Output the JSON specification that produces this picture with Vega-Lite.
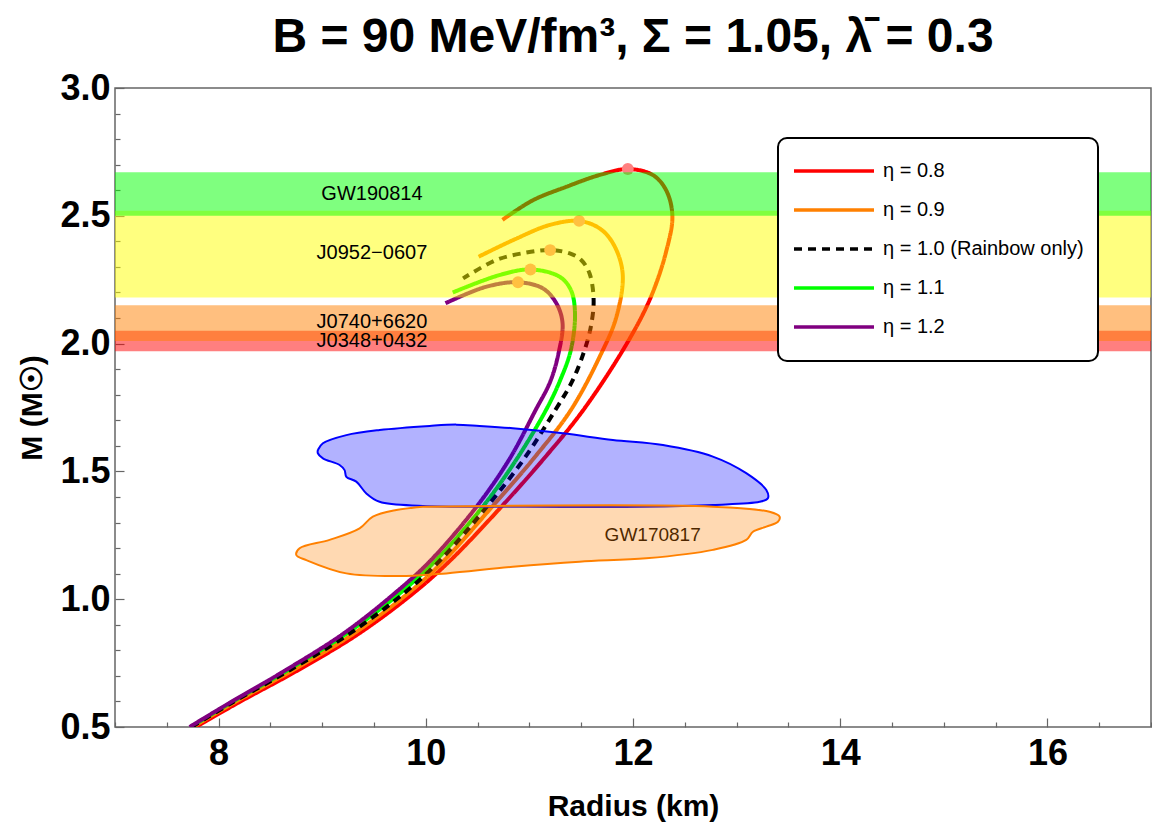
{
  "$schema": "https://vega.github.io/schema/vega-lite/v6.json",
  "width": 1036,
  "height": 639,
  "autosize": {"type": "none"},
  "padding": {"left": 115, "top": 88, "right": 1, "bottom": 102},
  "title": {
    "text": "B = 90 MeV/fm³, Σ = 1.05, λ̄ = 0.3",
    "fontSize": 48,
    "fontWeight": "bold",
    "font": "Liberation Sans",
    "color": "black",
    "anchor": "middle",
    "frame": "group",
    "offset": 8
  },
  "config": {
    "font": "Liberation Sans",
    "view": {"stroke": "#666666", "strokeWidth": 1.5},
    "axis": {
      "grid": false,
      "domain": false,
      "tickColor": "#666666",
      "tickWidth": 1.2,
      "labelColor": "black",
      "labelFontWeight": "bold",
      "labelFontSize": 36,
      "labelOverlap": false,
      "labelFlush": false,
      "labelBound": false,
      "titleColor": "black",
      "titleFontWeight": "bold",
      "titleFontSize": 30
    },
    "legend": {"strokeWidth": 2}
  },
  "datasets": {
    "curves": [
      {"eta": "0.8", "i": 0, "R": 7.78, "M": 0.5},
      {"eta": "0.8", "i": 1, "R": 8.18, "M": 0.593},
      {"eta": "0.8", "i": 2, "R": 8.77, "M": 0.723},
      {"eta": "0.8", "i": 3, "R": 9.36, "M": 0.867},
      {"eta": "0.8", "i": 4, "R": 9.9, "M": 1.03},
      {"eta": "0.8", "i": 5, "R": 10.24, "M": 1.153},
      {"eta": "0.8", "i": 6, "R": 10.73, "M": 1.362},
      {"eta": "0.8", "i": 7, "R": 11.14, "M": 1.55},
      {"eta": "0.8", "i": 8, "R": 11.52, "M": 1.74},
      {"eta": "0.8", "i": 9, "R": 11.94, "M": 2.0},
      {"eta": "0.8", "i": 10, "R": 12.17, "M": 2.18},
      {"eta": "0.8", "i": 11, "R": 12.32, "M": 2.36},
      {"eta": "0.8", "i": 12, "R": 12.38, "M": 2.5},
      {"eta": "0.8", "i": 13, "R": 12.32, "M": 2.6},
      {"eta": "0.8", "i": 14, "R": 12.19, "M": 2.66},
      {"eta": "0.8", "i": 15, "R": 11.95, "M": 2.683},
      {"eta": "0.8", "i": 16, "R": 11.68, "M": 2.66},
      {"eta": "0.8", "i": 17, "R": 11.36, "M": 2.614},
      {"eta": "0.8", "i": 18, "R": 11.03, "M": 2.56},
      {"eta": "0.8", "i": 19, "R": 10.74, "M": 2.484},
      {"eta": "0.9", "i": 0, "R": 7.75, "M": 0.5},
      {"eta": "0.9", "i": 1, "R": 8.14, "M": 0.593},
      {"eta": "0.9", "i": 2, "R": 8.72, "M": 0.723},
      {"eta": "0.9", "i": 3, "R": 9.31, "M": 0.867},
      {"eta": "0.9", "i": 4, "R": 9.85, "M": 1.03},
      {"eta": "0.9", "i": 5, "R": 10.18, "M": 1.153},
      {"eta": "0.9", "i": 6, "R": 10.64, "M": 1.362},
      {"eta": "0.9", "i": 7, "R": 11.04, "M": 1.55},
      {"eta": "0.9", "i": 8, "R": 11.4, "M": 1.74},
      {"eta": "0.9", "i": 9, "R": 11.68, "M": 1.95},
      {"eta": "0.9", "i": 10, "R": 11.84, "M": 2.105},
      {"eta": "0.9", "i": 11, "R": 11.9, "M": 2.275},
      {"eta": "0.9", "i": 12, "R": 11.81, "M": 2.39},
      {"eta": "0.9", "i": 13, "R": 11.68, "M": 2.45},
      {"eta": "0.9", "i": 14, "R": 11.48, "M": 2.48},
      {"eta": "0.9", "i": 15, "R": 11.195, "M": 2.464},
      {"eta": "0.9", "i": 16, "R": 10.87, "M": 2.41},
      {"eta": "0.9", "i": 17, "R": 10.51, "M": 2.34},
      {"eta": "1.1", "i": 0, "R": 7.73, "M": 0.5},
      {"eta": "1.1", "i": 1, "R": 8.11, "M": 0.593},
      {"eta": "1.1", "i": 2, "R": 8.67, "M": 0.723},
      {"eta": "1.1", "i": 3, "R": 9.24, "M": 0.867},
      {"eta": "1.1", "i": 4, "R": 9.77, "M": 1.03},
      {"eta": "1.1", "i": 5, "R": 10.1, "M": 1.153},
      {"eta": "1.1", "i": 6, "R": 10.55, "M": 1.362},
      {"eta": "1.1", "i": 7, "R": 10.88, "M": 1.55},
      {"eta": "1.1", "i": 8, "R": 11.16, "M": 1.74},
      {"eta": "1.1", "i": 9, "R": 11.29, "M": 1.85},
      {"eta": "1.1", "i": 10, "R": 11.4, "M": 1.975},
      {"eta": "1.1", "i": 11, "R": 11.44, "M": 2.12},
      {"eta": "1.1", "i": 12, "R": 11.4, "M": 2.21},
      {"eta": "1.1", "i": 13, "R": 11.29, "M": 2.262},
      {"eta": "1.1", "i": 14, "R": 11.01, "M": 2.29},
      {"eta": "1.1", "i": 15, "R": 10.71, "M": 2.268},
      {"eta": "1.1", "i": 16, "R": 10.26, "M": 2.2},
      {"eta": "1.0", "i": 0, "R": 7.74, "M": 0.5},
      {"eta": "1.0", "i": 1, "R": 8.12, "M": 0.593},
      {"eta": "1.0", "i": 2, "R": 8.69, "M": 0.723},
      {"eta": "1.0", "i": 3, "R": 9.27, "M": 0.867},
      {"eta": "1.0", "i": 4, "R": 9.81, "M": 1.03},
      {"eta": "1.0", "i": 5, "R": 10.14, "M": 1.153},
      {"eta": "1.0", "i": 6, "R": 10.59, "M": 1.362},
      {"eta": "1.0", "i": 7, "R": 10.95, "M": 1.55},
      {"eta": "1.0", "i": 8, "R": 11.25, "M": 1.74},
      {"eta": "1.0", "i": 9, "R": 11.41, "M": 1.85},
      {"eta": "1.0", "i": 10, "R": 11.52, "M": 1.96},
      {"eta": "1.0", "i": 11, "R": 11.59, "M": 2.06},
      {"eta": "1.0", "i": 12, "R": 11.62, "M": 2.17},
      {"eta": "1.0", "i": 13, "R": 11.58, "M": 2.275},
      {"eta": "1.0", "i": 14, "R": 11.5, "M": 2.327},
      {"eta": "1.0", "i": 15, "R": 11.39, "M": 2.353},
      {"eta": "1.0", "i": 16, "R": 11.2, "M": 2.366},
      {"eta": "1.0", "i": 17, "R": 10.97, "M": 2.356},
      {"eta": "1.0", "i": 18, "R": 10.68, "M": 2.327},
      {"eta": "1.0", "i": 19, "R": 10.36, "M": 2.255},
      {"eta": "1.2", "i": 0, "R": 7.72, "M": 0.5},
      {"eta": "1.2", "i": 1, "R": 8.1, "M": 0.593},
      {"eta": "1.2", "i": 2, "R": 8.65, "M": 0.723},
      {"eta": "1.2", "i": 3, "R": 9.21, "M": 0.867},
      {"eta": "1.2", "i": 4, "R": 9.72, "M": 1.03},
      {"eta": "1.2", "i": 5, "R": 10.05, "M": 1.153},
      {"eta": "1.2", "i": 6, "R": 10.49, "M": 1.362},
      {"eta": "1.2", "i": 7, "R": 10.81, "M": 1.55},
      {"eta": "1.2", "i": 8, "R": 11.06, "M": 1.74},
      {"eta": "1.2", "i": 9, "R": 11.2, "M": 1.85},
      {"eta": "1.2", "i": 10, "R": 11.28, "M": 1.96},
      {"eta": "1.2", "i": 11, "R": 11.32, "M": 2.08},
      {"eta": "1.2", "i": 12, "R": 11.26, "M": 2.158},
      {"eta": "1.2", "i": 13, "R": 11.13, "M": 2.216},
      {"eta": "1.2", "i": 14, "R": 10.89, "M": 2.24},
      {"eta": "1.2", "i": 15, "R": 10.58, "M": 2.222},
      {"eta": "1.2", "i": 16, "R": 10.19, "M": 2.158}
    ],
    "peaks": [
      {"eta": "0.8", "R": 11.95, "M": 2.683},
      {"eta": "0.9", "R": 11.48, "M": 2.48},
      {"eta": "1.0", "R": 11.2, "M": 2.366},
      {"eta": "1.1", "R": 11.01, "M": 2.29},
      {"eta": "1.2", "R": 10.89, "M": 2.24}
    ],
    "bands": [
      {"name": "J0348+0432", "lo": 1.97, "hi": 2.05, "R": 9.48, "M": 2.01},
      {"name": "J0740+6620", "lo": 2.01, "hi": 2.15, "R": 9.48, "M": 2.083},
      {"name": "J0952−0607", "lo": 2.18, "hi": 2.52, "R": 9.48, "M": 2.356},
      {"name": "GW190814", "lo": 2.5, "hi": 2.67, "R": 9.48, "M": 2.585}
    ],
    "gwBlue": [
      {"i": 0, "R": 8.958, "M": 1.584},
      {"i": 1, "R": 9.007, "M": 1.61},
      {"i": 2, "R": 9.233, "M": 1.642},
      {"i": 3, "R": 9.554, "M": 1.662},
      {"i": 4, "R": 10.037, "M": 1.678},
      {"i": 5, "R": 10.294, "M": 1.683},
      {"i": 6, "R": 10.519, "M": 1.678},
      {"i": 7, "R": 10.84, "M": 1.669},
      {"i": 8, "R": 11.323, "M": 1.649},
      {"i": 9, "R": 11.806, "M": 1.623},
      {"i": 10, "R": 12.289, "M": 1.603},
      {"i": 11, "R": 12.771, "M": 1.558},
      {"i": 12, "R": 13.093, "M": 1.493},
      {"i": 13, "R": 13.287, "M": 1.427},
      {"i": 14, "R": 13.302, "M": 1.395},
      {"i": 15, "R": 13.222, "M": 1.381},
      {"i": 16, "R": 12.771, "M": 1.369},
      {"i": 17, "R": 12.128, "M": 1.362},
      {"i": 18, "R": 10.84, "M": 1.362},
      {"i": 19, "R": 9.972, "M": 1.365},
      {"i": 20, "R": 9.554, "M": 1.381},
      {"i": 21, "R": 9.426, "M": 1.414},
      {"i": 22, "R": 9.329, "M": 1.46},
      {"i": 23, "R": 9.233, "M": 1.479},
      {"i": 24, "R": 9.216, "M": 1.505},
      {"i": 25, "R": 9.168, "M": 1.525},
      {"i": 26, "R": 9.007, "M": 1.551},
      {"i": 27, "R": 8.958, "M": 1.571},
      {"i": 28, "R": 8.958, "M": 1.584}
    ],
    "gwOrange": [
      {"i": 0, "R": 9.972, "M": 1.362},
      {"i": 1, "R": 12.771, "M": 1.362},
      {"i": 2, "R": 13.318, "M": 1.342},
      {"i": 3, "R": 13.415, "M": 1.323},
      {"i": 4, "R": 13.399, "M": 1.303},
      {"i": 5, "R": 13.287, "M": 1.284},
      {"i": 6, "R": 13.158, "M": 1.264},
      {"i": 7, "R": 13.093, "M": 1.232},
      {"i": 8, "R": 12.771, "M": 1.193},
      {"i": 9, "R": 12.128, "M": 1.16},
      {"i": 10, "R": 11.484, "M": 1.147},
      {"i": 11, "R": 10.84, "M": 1.127},
      {"i": 12, "R": 10.198, "M": 1.101},
      {"i": 13, "R": 9.812, "M": 1.091},
      {"i": 14, "R": 9.233, "M": 1.101},
      {"i": 15, "R": 8.847, "M": 1.153},
      {"i": 16, "R": 8.75, "M": 1.173},
      {"i": 17, "R": 8.782, "M": 1.199},
      {"i": 18, "R": 9.071, "M": 1.232},
      {"i": 19, "R": 9.361, "M": 1.277},
      {"i": 20, "R": 9.489, "M": 1.323},
      {"i": 21, "R": 9.715, "M": 1.349},
      {"i": 22, "R": 9.972, "M": 1.362}
    ],
    "gwLabel": [
      {"name": "GW170817", "R": 12.19, "M": 1.251}
    ]
  },
  "encoding": {
    "x": {
      "field": "R",
      "type": "quantitative",
      "scale": {"domain": [7, 17], "nice": false, "zero": false},
      "axis": {
        "title": "Radius (km)",
        "values": [7, 7.5, 8, 8.5, 9, 9.5, 10, 10.5, 11, 11.5, 12, 12.5, 13, 13.5, 14, 14.5, 15, 15.5, 16, 16.5, 17],
        "labelExpr": "datum.value % 2 == 0 ? datum.value : ''",
        "tickSize": {"condition": {"test": "datum.value % 2 == 0", "value": -9}, "value": -5},
        "labelPadding": 18,
        "titlePadding": 16
      }
    },
    "y": {
      "field": "M",
      "type": "quantitative",
      "scale": {"domain": [0.5, 3.0], "nice": false, "zero": false},
      "axis": {
        "title": "M (M☉)",
        "values": [0.5, 0.6, 0.7, 0.8, 0.9, 1.0, 1.1, 1.2, 1.3, 1.4, 1.5, 1.6, 1.7, 1.8, 1.9, 2.0, 2.1, 2.2, 2.3, 2.4, 2.5, 2.6, 2.7, 2.8, 2.9, 3.0],
        "labelExpr": "abs(datum.value * 2 - round(datum.value * 2)) < 0.001 ? format(datum.value, '.1f') : ''",
        "tickSize": {"condition": {"test": "abs(datum.value * 2 - round(datum.value * 2)) < 0.001", "value": -9}, "value": -5},
        "labelPadding": 14,
        "titlePadding": 12
      }
    }
  },
  "layer": [
    {
      "data": {"name": "curves"},
      "mark": {"type": "line", "strokeWidth": 4, "interpolate": "catmull-rom", "clip": true},
      "encoding": {
        "order": {"field": "i", "type": "quantitative"},
        "color": {
          "field": "eta",
          "type": "nominal",
          "scale": {"domain": ["0.8", "0.9", "1.0", "1.1", "1.2"], "range": ["#ff0000", "#ff8000", "#000000", "#00ff00", "#800080"]},
          "legend": {
            "title": null,
            "orient": "none",
            "legendX": 663,
            "legendY": 50,
            "symbolType": "stroke",
            "symbolSize": 6400,
            "symbolStrokeWidth": 3.5,
            "clipHeight": 38.2,
            "rowPadding": 0,
            "labelFontSize": 20,
            "labelColor": "black",
            "labelOffset": 7,
            "labelLimit": 400,
            "padding": 14,
            "strokeColor": "black",
            "cornerRadius": 9,
            "fillColor": "white",
            "labelExpr": "'η = ' + datum.label + (datum.label == '1.0' ? ' (Rainbow only)  ' : '')"
          }
        },
        "strokeDash": {
          "field": "eta",
          "type": "nominal",
          "scale": {"domain": ["0.8", "0.9", "1.0", "1.1", "1.2"], "range": [[1, 0], [1, 0], [8, 6], [1, 0], [1, 0]]},
          "legend": {
            "title": null,
            "orient": "none",
            "legendX": 663,
            "legendY": 50,
            "symbolType": "stroke",
            "symbolSize": 6400,
            "symbolStrokeWidth": 3.5,
            "clipHeight": 38.2,
            "rowPadding": 0,
            "labelFontSize": 20,
            "labelColor": "black",
            "labelOffset": 7,
            "labelLimit": 400,
            "padding": 14,
            "strokeColor": "black",
            "cornerRadius": 9,
            "fillColor": "white",
            "labelExpr": "'η = ' + datum.label + (datum.label == '1.0' ? ' (Rainbow only)  ' : '')"
          }
        }
      }
    },
    {
      "data": {"name": "peaks"},
      "mark": {"type": "circle", "color": "#ff8080", "opacity": 1, "size": 140}
    },
    {
      "data": {"name": "gwLabel"},
      "mark": {"type": "text", "fontSize": 19, "color": "black", "align": "center", "baseline": "middle"},
      "encoding": {"text": {"field": "name"}}
    },
    {
      "data": {"name": "gwBlue"},
      "mark": {"type": "line", "stroke": "#0000ff", "strokeWidth": 2, "fill": "#0000ff", "fillOpacity": 0.3, "interpolate": "catmull-rom"},
      "encoding": {"order": {"field": "i", "type": "quantitative"}}
    },
    {
      "data": {"name": "gwOrange"},
      "mark": {"type": "line", "stroke": "#ff8000", "strokeWidth": 2, "fill": "#ff8000", "fillOpacity": 0.3, "interpolate": "catmull-rom"},
      "encoding": {"order": {"field": "i", "type": "quantitative"}}
    },
    {
      "data": {"name": "bands"},
      "mark": {"type": "rect", "opacity": 0.5},
      "encoding": {
        "x": null,
        "y": {"field": "lo", "type": "quantitative"},
        "y2": {"field": "hi"},
        "fill": {
          "field": "name",
          "type": "nominal",
          "scale": {"domain": ["J0348+0432", "J0740+6620", "J0952−0607", "GW190814"], "range": ["#ff0000", "#ff8000", "#ffff00", "#00ff00"]},
          "legend": null
        }
      }
    },
    {
      "data": {"name": "bands"},
      "mark": {"type": "text", "fontSize": 20, "color": "black", "align": "center", "baseline": "middle"},
      "encoding": {"text": {"field": "name"}}
    }
  ]
}
